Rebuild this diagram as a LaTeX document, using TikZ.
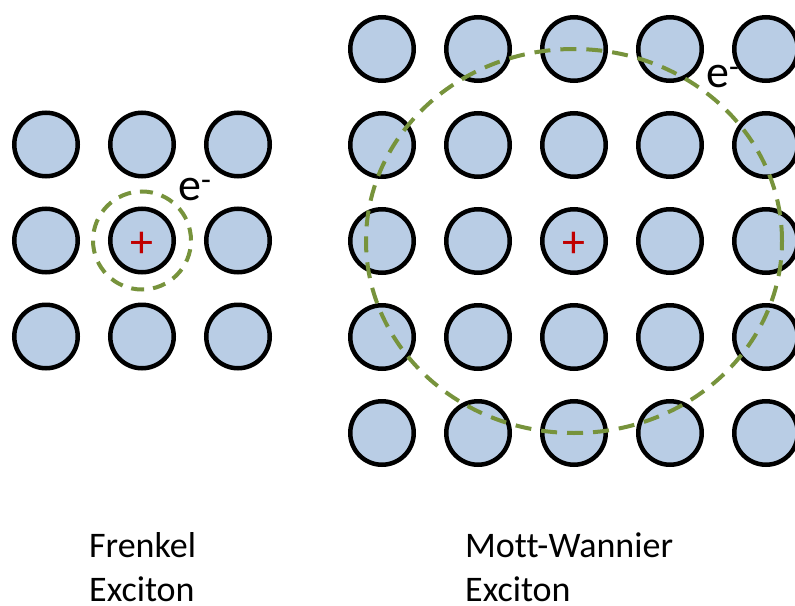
\documentclass[tikz,border=0pt]{standalone}
\usepackage{fontspec}
\setmainfont{Carlito}[Ligatures=NoCommon]
\definecolor{atomfill}{HTML}{B9CDE5}
\definecolor{orbitcol}{HTML}{77933C}
\definecolor{holecol}{HTML}{C00000}
\newcommand{\twolines}[2]{\vbox{\hbox{#1}\hbox{#2}}}
\begin{document}
\begin{tikzpicture}[x=1pt,y=-1pt,
  atom/.style={circle, draw=black, line width=4.5pt, fill=atomfill, minimum size=63.5pt, inner sep=0pt},
  orbitline/.style={draw=orbitcol, line width=4pt},
  holelabel/.style={text=holecol, inner sep=0pt, yshift=-4pt, font=\fontsize{46}{50}\selectfont},
  elabel/.style={anchor=base west, inner sep=0pt, font=\fontsize{46}{55}\selectfont},
  caption/.style={anchor=base west, inner sep=0pt, font=\fontsize{36}{44}\selectfont}]
\clip (0,0) rectangle (795,605);
% electron labels (behind atoms)
\node[elabel] (el) at (178,200) {e\textsuperscript{-}};
\node[elabel] (er) at (706,87) {e\textsuperscript{-}};
% Frenkel lattice 3x3
\foreach \i in {1,2,3}{
  \foreach \j in {1,2,3}{
    \node[atom] (f\i\j) at ({46+96*(\j-1)},{144.5+96*(\i-1)}) {};
  }
}
% Mott-Wannier lattice 5x5
\foreach \i in {1,...,5}{
  \foreach \j in {1,...,5}{
    \node[atom] (m\i\j) at ({382+96*(\j-1)},{49+96*(\i-1)}) {};
  }
}
% orbits
\draw[orbitline, dash pattern=on 13pt off 9pt] (f22.center) circle [radius=49pt];
\draw[orbitline, dash pattern=on 16pt off 10pt] (m33.center) ellipse [x radius=208pt, y radius=192pt];
% holes
\node[holelabel] (hf) at (f22.center) {+};
\node[holelabel] (hm) at (m33.center) {+};
% captions
\node[caption] (tf) at (89,601) {\twolines{Frenkel}{Exciton}};
\node[caption] (tm) at (465,601) {\twolines{Mott-Wannier}{Exciton}};
\end{tikzpicture}
\end{document}
